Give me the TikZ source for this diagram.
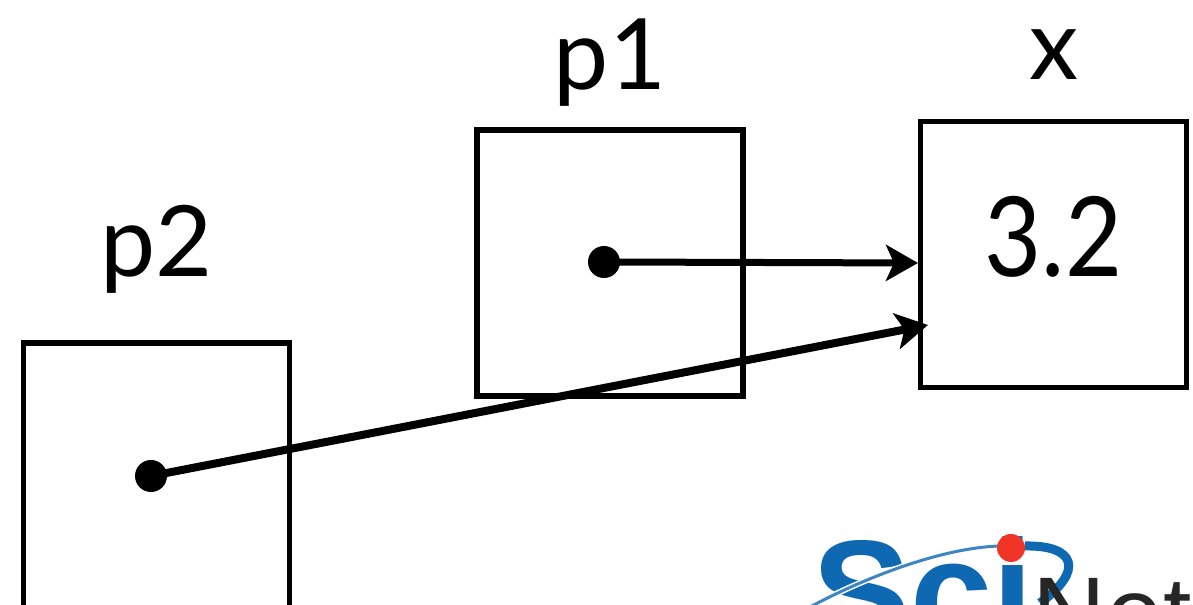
\documentclass[tikz,border=0pt]{standalone}
\usepackage{fontspec}
\usepackage{xcolor}
\setmainfont{Lato}
\newfontfamily\logofont{Liberation Sans}
\newfontfamily\valuefont[FakeStretch=0.89]{Lato}
\usetikzlibrary{arrows.meta,positioning}
\definecolor{sciblue}{RGB}{14,104,178}
\definecolor{scired}{RGB}{240,52,40}

\begin{document}
\begin{tikzpicture}[
    cell/.style={rectangle, draw, line width=1.1mm, minimum size=5.32cm, inner sep=0pt, outer sep=0pt},
    varname/.style={font=\fontsize{56}{56}\selectfont, inner sep=0pt},
    cellvalue/.style={font=\valuefont\fontsize{63}{63}\selectfont, inner sep=0pt},
    refdot/.style={circle, fill=black, minimum size=0.64cm, inner sep=0pt},
    pointer/.style={-{Stealth[length=0.64cm, width=0.72cm, inset=0.16cm]}, line width=1.4mm, shorten <=-1mm},
    logo/.style={inner sep=0pt, anchor=base west}
]
\useasboundingbox (0,0) rectangle (23.86,12.1);

\node[cell] (p1box) at (12.2,6.84) {};
\node[cell] (xbox) at (21.07,7.01) {};
\node[cell] (p2box) at (3.13,2.58) {};

\node[varname, above=0.8cm of p1box, anchor=base] (p1label) {p1};
\node[varname, above=0.84cm of xbox, anchor=base] (xlabel) {x};
\node[varname, above=1.32cm of p2box, anchor=base] (p2label) {p2};
\node[cellvalue, yshift=0.36cm] (xvalue) at (xbox) {3.2};

\node[refdot] (p1dot) at (12.08,6.86) {};
\node[refdot] (p2dot) at (3.02,2.58) {};
\coordinate (p1end) at (18.36,6.84);
\coordinate (p2end) at (18.56,5.6);

\draw[pointer] (p1dot) -- (p1end);
\draw[pointer, line width=1.6mm] (p2dot) -- (p2end);

% logo in the corner
\node[logo, text=sciblue, font=\logofont\bfseries\fontsize{84}{84}\selectfont] (scitext) at (16.24,-0.78) {Sci};
\draw[sciblue!80, line width=0.6mm, preaction={draw=white, line width=1.2mm}] (16.2,-0.04) .. controls (17.4,0.6) and (18.9,1.15) .. (20,1.18);
\draw[sciblue, line width=1.8mm] (20.5,1.18) .. controls (21.5,1.2) and (21.7,0.7) .. (20.8,0.04);
\node[circle, fill=scired, minimum size=0.56cm, inner sep=0pt] (scidot) at (20.22,1.14) {};
\node[logo, text=black!85, font=\logofont\fontsize{58}{58}\selectfont] (nettext) at (20.65,-0.88) {Net};

\end{tikzpicture}
\end{document}
